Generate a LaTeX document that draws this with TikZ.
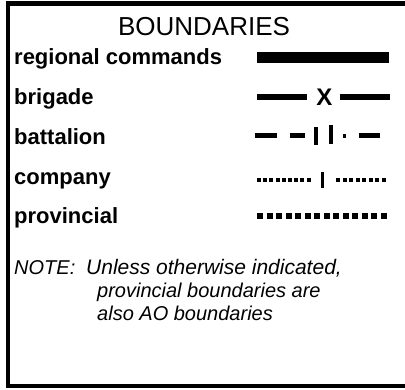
\documentclass[tikz,border=0pt]{standalone}
\usepackage{fontspec}
\setmainfont{Liberation Sans}
\begin{document}
\begin{tikzpicture}[x=1pt,y=-1pt,
  lbl/.style={anchor=base west,inner sep=0pt,font=\fontsize{22}{24}\selectfont\bfseries},
  note/.style={anchor=base west,inner sep=0pt,font=\fontsize{20}{24}\selectfont\itshape}]
\useasboundingbox (0,0) rectangle (405,389);
\begin{scope}
\clip (0,0) rectangle (405,389);
\draw[line width=4.5pt] (8,3.5) rectangle (420,386);
\end{scope}
\node[anchor=base,inner sep=0pt,font=\fontsize{26}{30}\selectfont] (title) at (204,35) {BOUNDARIES};
\node[lbl] (reg) at (14,64) {regional commands};
\node[lbl] (bri) at (14,104) {brigade};
\node[lbl] (bat) at (14,144) {battalion};
\node[lbl] (com) at (14,184) {company};
\node[lbl] (pro) at (14,223) {provincial};
% regional
\fill (257,52) rectangle (389,63);
% brigade
\fill (257,94) rectangle (307,100);
\fill (340,94) rectangle (390,100);
\node[anchor=base,inner sep=0pt,font=\fontsize{24}{26}\selectfont\bfseries] (x) at (324.5,105) {X};
% battalion
\fill (255,133) rectangle (277,138);
\fill (290,133) rectangle (305,138);
\fill (314,127) rectangle (318,145);
\fill (329,125) rectangle (333,144);
\fill (343,134) rectangle (346,138);
\fill (359,133) rectangle (380,138);
% company
\foreach \i in {0,...,8} {\fill ({257+6.2*\i},178) rectangle ({261+6.2*\i},182);}
\fill (321,172) rectangle (324,188);
\foreach \i in {0,...,7} {\fill ({336+6.5*\i},178) rectangle ({340+6.5*\i},182);}
% provincial
\foreach \i in {0,...,13} {\fill ({257+9.5*\i},213) rectangle ({263+9.5*\i},219);}
% note
\node[note] (n0) at (14,274) {NOTE:};
\node[note,font=\fontsize{21}{24}\selectfont\itshape] (n1) at (86,274) {Unless otherwise indicated,};
\node[note] (n2) at (97,297) {provincial boundaries are};
\node[note] (n3) at (97,320) {also AO boundaries};
\end{tikzpicture}
\end{document}
